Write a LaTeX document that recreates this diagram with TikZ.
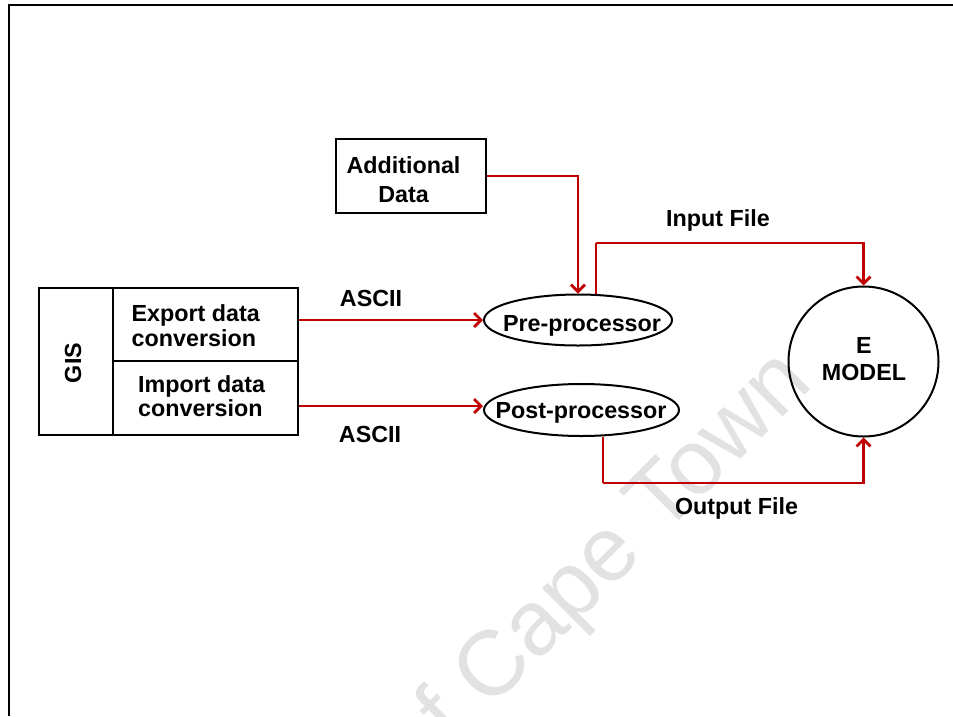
\documentclass[tikz,border=0pt]{standalone}
\usepackage{fontspec}
\setmainfont{Liberation Sans}
\usetikzlibrary{shapes.geometric,arrows.meta,calc}

\definecolor{flowred}{RGB}{192,0,0}
\definecolor{wmgray}{RGB}{226,226,226}

\tikzset{
  txt/.style={font=\fontsize{23.3}{25}\selectfont\bfseries, inner sep=0pt},
  box/.style={draw=black, line width=2pt, rectangle, inner sep=0pt},
  oval/.style={draw=black, line width=2pt, ellipse, inner sep=0pt, txt},
  flow/.style={draw=flowred, line width=2.7pt,
    -{Straight Barb[length=7pt,width=14pt,line width=2.7pt]}},
  plain/.style={draw=flowred, line width=2.7pt},
}

\begin{document}
\begin{tikzpicture}[x=1pt,y=-1pt]
\useasboundingbox (0,0) rectangle (953,716);

% faint watermark text behind everything
\begin{scope}
  \clip (9,5) rectangle (953,716);
  \node[rotate=45, anchor=base east, inner sep=0pt, text=wmgray,
        font=\fontsize{92}{92}\selectfont] (wm) at (815,385)
        {University of Cape Town};
\end{scope}

% page frame (top and left edges)
\draw[line width=2.2pt] (9,716) -- (9,5) -- (953,5);

% GIS block
\node[box, minimum width=74pt, minimum height=147pt] (gis) at (76,361.5) {};
\node[box, minimum width=185pt, minimum height=73pt] (export) at (205.5,324.5) {};
\node[box, minimum width=185pt, minimum height=74pt] (import) at (205.5,398) {};
\node[txt, rotate=90] (gistxt) at (73,363) {GIS};
\node[txt, anchor=base west, align=left] (exporttxt) at (131.5,346.5)
  {Export data\\conversion};
\node[txt, anchor=base west, align=left, font=\fontsize{23.3}{24}\selectfont\bfseries]
  (importtxt) at (138,416.7) {Import data\\conversion};

% additional data
\node[box, minimum width=150pt, minimum height=74pt] (add) at (411,176) {};
\node[txt, align=center, font=\fontsize{23.3}{29.3}\selectfont\bfseries,
      anchor=base] (addtxt) at (403.5,202.7) {Additional\\Data};

% processors
\node[oval, minimum width=188pt, minimum height=51pt] (pre) at (578,320) {};
\node[txt, anchor=base] (pretxt) at (582,331.7) {Pre-processor};
\node[oval, minimum width=195pt, minimum height=52pt] (post) at (581.5,410) {};
\node[txt, anchor=base] (posttxt) at (581,418.4) {Post-processor};

% model
\node[draw=black, line width=2pt, circle, minimum size=150pt, inner sep=0pt]
  (em) at (863.5,361.5) {};
\node[txt, align=center, font=\fontsize{23.3}{27}\selectfont\bfseries, anchor=base]
  (emtxt) at (864,380.7) {E\\MODEL};

% connectors
\coordinate (inTop) at (596,243);
\coordinate (outBot) at (603,483);
\draw[flow] (add.east) -| (pre.north);
\draw[flow] (export.east |- pre.west) -- (pre.west);
\draw[flow] (import.east |- 0,406) -- (post.west |- 0,406);
\draw[plain] ([xshift=18pt]pre.north) -- (inTop);
\draw[flow] (inTop) -| (em.north);
\draw[plain] ([xshift=21.5pt]post.south) -- (outBot);
\draw[flow] (outBot) -| (em.south);

% connector labels
\node[txt, anchor=base] (asciiA) at (371,306.7) {ASCII};
\node[txt, anchor=base] (asciiB) at (370,442) {ASCII};
\node[txt, anchor=base] (inlbl) at (718,226.7) {Input File};
\node[txt, anchor=base] (outlbl) at (736.5,514.7) {Output File};
\end{tikzpicture}
\end{document}
